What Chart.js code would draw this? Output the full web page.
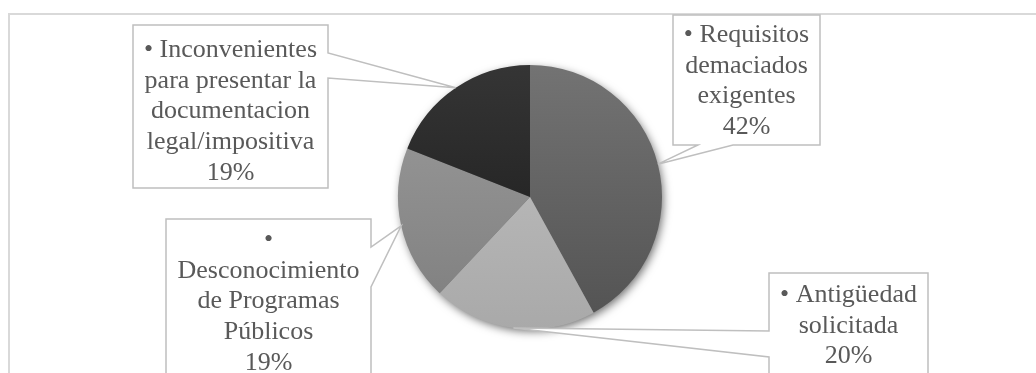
<!DOCTYPE html>
<html>
<head>
<meta charset="utf-8">
<script src="https://cdn.jsdelivr.net/npm/chart.js@4/dist/chart.umd.min.js"></script>
<style>
    body { margin: 0; background: #fff; }
    #wrap { width: 1036px; height: 373px; position: relative; }
</style>
</head>
<body>
<div id="wrap"><canvas id="pieChart"></canvas></div>
<script>
// Chart data
const categories = [
    "Requisitos demaciados exigentes",
    "Antigüedad solicitada",
    "Desconocimiento de Programas Públicos",
    "Inconvenientes para presentar la documentacion legal/impositiva"
];
const percentages = [42, 20, 19, 19];

// Label lines as shown in each callout (the last line is the percentage)
const labelLines = [
    ["• Requisitos", "demaciados", "exigentes"],
    ["• Antigüedad", "solicitada"],
    ["•", "Desconocimiento", "de Programas", "Públicos"],
    ["• Inconvenientes", "para presentar la", "documentacion", "legal/impositiva"]
];

// Slice shading (top colour, bottom colour)
const sliceShades = [
    ["#737373", "#525252"],
    ["#c2c2c2", "#a9a9a9"],
    ["#9c9c9c", "#7e7e7e"],
    ["#353535", "#181818"]
];

// Callout boxes: rect, side where the pointer leaves, the two attach points, first text line
const callouts = [
    { x: 673, y: 15, w: 147, h: 130, side: "bottom", a1: 698, a2: 733, firstLine: 35 },
    { x: 769, y: 273, w: 159, h: 160, side: "left", a1: 331, a2: 357, firstLine: 295 },
    { x: 166, y: 219, w: 205, h: 200, side: "right", a1: 247, a2: 287, firstLine: 240 },
    { x: 133, y: 25, w: 195, h: 163, side: "right", a1: 53, a2: 78, firstLine: 50 }
];

const LINE_H = 30.8;
const TEXT_COLOR = "#595959";
const BOX_COLOR = "#bfbfbf";

// Frame around the chart area
const framePlugin = {
    id: "frame",
    beforeDraw(chart) {
        const ctx = chart.ctx;
        ctx.save();
        ctx.strokeStyle = "#d9d9d9";
        ctx.lineWidth = 2;
        ctx.strokeRect(9, 14, chart.width + 20, chart.height + 20);
        ctx.restore();
    }
};

// Soft shadow behind the pie
const shadowPlugin = {
    id: "pieShadow",
    beforeDatasetsDraw(chart) {
        const arc = chart.getDatasetMeta(0).data[0];
        if (!arc) return;
        const ctx = chart.ctx;
        ctx.save();
        ctx.shadowColor = "rgba(0,0,0,0.6)";
        ctx.shadowBlur = 10;
        ctx.shadowOffsetX = 2;
        ctx.shadowOffsetY = 3;
        ctx.fillStyle = "#777";
        ctx.beginPath();
        ctx.arc(arc.x, arc.y, arc.outerRadius - 1, 0, Math.PI * 2);
        ctx.fill();
        ctx.restore();
    }
};

function calloutPath(ctx, c, tip) {
    const r = c.x + c.w, b = c.y + c.h;
    ctx.beginPath();
    ctx.moveTo(c.x, c.y);
    ctx.lineTo(r, c.y);
    if (c.side === "right") {
        ctx.lineTo(r, c.a1);
        ctx.lineTo(tip.x, tip.y);
        ctx.lineTo(r, c.a2);
    }
    ctx.lineTo(r, b);
    if (c.side === "bottom") {
        ctx.lineTo(c.a2, b);
        ctx.lineTo(tip.x, tip.y);
        ctx.lineTo(c.a1, b);
    }
    ctx.lineTo(c.x, b);
    if (c.side === "left") {
        ctx.lineTo(c.x, c.a2);
        ctx.lineTo(tip.x, tip.y);
        ctx.lineTo(c.x, c.a1);
    }
    ctx.closePath();
}

// Callout labels pointing at the middle of each slice
const calloutPlugin = {
    id: "callouts",
    afterDatasetsDraw(chart) {
        const ctx = chart.ctx;
        const meta = chart.getDatasetMeta(0);
        meta.data.forEach((arc, i) => {
            const c = callouts[i];
            const mid = (arc.startAngle + arc.endAngle) / 2;
            const tip = {
                x: arc.x + Math.cos(mid) * arc.outerRadius,
                y: arc.y + Math.sin(mid) * arc.outerRadius
            };
            ctx.save();
            calloutPath(ctx, c, tip);
            ctx.fillStyle = "#fff";
            ctx.fill();
            ctx.strokeStyle = BOX_COLOR;
            ctx.lineWidth = 1.5;
            ctx.stroke();

            ctx.fillStyle = TEXT_COLOR;
            ctx.font = "26px 'Liberation Serif', 'Times New Roman', serif";
            ctx.textAlign = "center";
            ctx.textBaseline = "middle";
            const lines = labelLines[i].concat([percentages[i] + "%"]);
            lines.forEach((t, k) => {
                ctx.fillText(t, c.x + c.w / 2, c.firstLine + k * LINE_H);
            });
            ctx.restore();
        });
    }
};

function sliceGradient(context) {
    const chart = context.chart;
    const area = chart.chartArea;
    if (!area) return sliceShades[context.dataIndex][1];
    const g = chart.ctx.createLinearGradient(0, area.top, 0, area.bottom);
    g.addColorStop(0, sliceShades[context.dataIndex][0]);
    g.addColorStop(1, sliceShades[context.dataIndex][1]);
    return g;
}

new Chart(document.getElementById("pieChart"), {
    type: "pie",
    data: {
        labels: categories,
        datasets: [{
            data: percentages,
            backgroundColor: sliceGradient,
            borderWidth: 0
        }]
    },
    options: {
        responsive: true,
        maintainAspectRatio: false,
        animation: false,
        layout: {
            padding: { left: 24, right: 0, top: 65, bottom: 44 }
        },
        plugins: {
            legend: { display: false },
            tooltip: { enabled: false }
        }
    },
    plugins: [framePlugin, shadowPlugin, calloutPlugin]
});
</script>
</body>
</html>
